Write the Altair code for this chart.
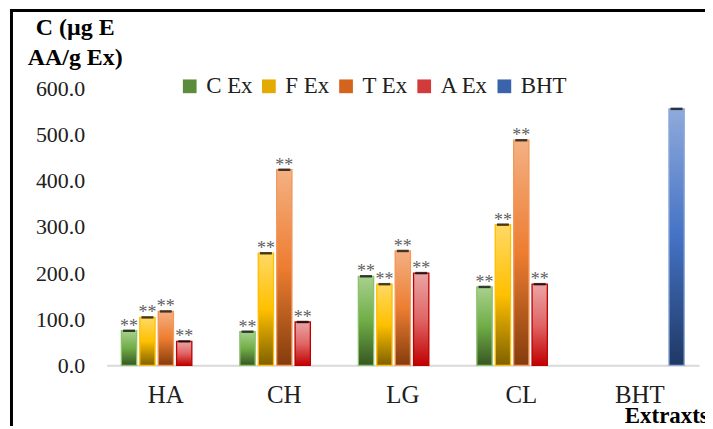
import altair as alt
import pandas as pd

categories = ["HA", "CH", "LG", "CL", "BHT"]
series = ["C Ex", "F Ex", "T Ex", "A Ex", "BHT"]
c_ex = [75, 73, 193, 170]
f_ex = [104, 243, 176, 305]
t_ex = [117, 424, 248, 488]
a_ex = [52, 94, 200, 176]
bht = [556]
sig_label = "**"

rows = []
for i, cat in enumerate(categories[:4]):
    for s, vals in zip(series[:4], [c_ex, f_ex, t_ex, a_ex]):
        rows.append({"cat": cat, "series": s, "value": vals[i], "sig": sig_label})
rows.append({"cat": "BHT", "series": "BHT", "value": bht[0], "sig": ""})
df = pd.DataFrame(rows)

FONT = "Liberation Serif"

grad_stops = {
    "C Ex": ["#a9d18e", "#70ad47", "#375623"],
    "F Ex": ["#ffd966", "#ffc000", "#7f6000"],
    "T Ex": ["#f4b183", "#ed7d31", "#843c0c"],
    "A Ex": ["#eaa5a5", "#e06666", "#c00000"],
    "BHT": ["#8faadc", "#4472c4", "#1f3864"],
}
strokes = {
    "C Ex": "#8cc16b",
    "F Ex": "#ffc000",
    "T Ex": "#f29a5e",
    "A Ex": "#c00000",
    "BHT": "#8faadc",
}
legend_colors = ["#5b8c3c", "#e3aa00", "#d4631b", "#d23b3b", "#3b63aa"]

x_enc = alt.X(
    "cat:N",
    sort=categories,
    scale=alt.Scale(domain=categories, paddingInner=0.25, paddingOuter=0.125),
    axis=alt.Axis(
        labelAngle=0, ticks=False, grid=False, domain=True,
        domainColor="#d9d9d9", domainWidth=2,
        labelFont=FONT, labelFontSize=25, labelColor="#202020", labelPadding=17,
        title="Extraxts", titleFont=FONT, titleFontSize=23, titleFontWeight="bold",
        titleColor="#000000", titleX=520, titleY=57, titleAlign="left",
        titleAnchor="start", titleBaseline="alphabetic",
    ),
)
xo_enc = alt.XOffset(
    "series:N",
    sort=series,
    scale=alt.Scale(domain=series, paddingInner=0.17, paddingOuter=0),
)
y_enc = alt.Y(
    "value:Q",
    scale=alt.Scale(domain=[0, 600], nice=False),
    axis=alt.Axis(
        values=[0, 100, 200, 300, 400, 500, 600], format=".1f",
        grid=False, domain=False, ticks=False,
        labelFont=FONT, labelFontSize=22, labelColor="#202020", labelPadding=22,
        title=["C (µg E", "AA/g Ex)"], titleAngle=0, titleX=-32, titleY=-54.5,
        titleAlign="center", titleBaseline="alphabetic", titleFont=FONT,
        titleFontSize=24, titleFontWeight="bold", titleLineHeight=30,
        titleColor="#000000",
    ),
)

base = alt.Chart(df)

legend_layer = base.mark_bar(strokeWidth=0).encode(
    x=x_enc, xOffset=xo_enc, y=y_enc,
    color=alt.Color(
        "series:N",
        sort=series,
        scale=alt.Scale(domain=series, range=legend_colors),
        legend=alt.Legend(
            orient="none", legendX=72, legendY=-14, direction="horizontal",
            title=None, symbolType="square", symbolSize=190, padding=0,
            labelFont=FONT, labelFontSize=23, labelColor="#202020",
            labelOffset=5, columnPadding=4.5,
            labelExpr="datum.label == 'C Ex' ? ' C Ex' : datum.label",
        ),
    ),
)

layers = [legend_layer]
for s in series:
    st = grad_stops[s]
    g = alt.Gradient(
        gradient="linear", x1=0, y1=0, x2=0, y2=1,
        stops=[
            alt.GradientStop(offset=0, color=st[0]),
            alt.GradientStop(offset=0.5, color=st[1]),
            alt.GradientStop(offset=1, color=st[2]),
        ],
    )
    layers.append(
        base.transform_filter(alt.datum.series == s)
        .mark_bar(fill=g, stroke=strokes[s], strokeWidth=1.3)
        .encode(x=x_enc, xOffset=xo_enc, y=y_enc)
    )

caps = base.mark_tick(color="#000000", thickness=2.5, size=12, orient="horizontal").encode(
    x=x_enc, xOffset=xo_enc, y=y_enc
)
stars = base.mark_text(
    baseline="alphabetic", dy=1, font=FONT, fontSize=18, color="#5f5f5f"
).encode(x=x_enc, xOffset=xo_enc, y=y_enc, text="sig:N")
layers += [caps, stars]

frame_data = alt.Data(values=[{"k": 0}])
left_line = alt.Chart(frame_data).mark_rule(color="#000000", strokeWidth=3).encode(
    x=alt.value(-95.5), y=alt.value(-80), y2=alt.value(345)
)
top_line = alt.Chart(frame_data).mark_rule(color="#000000", strokeWidth=3).encode(
    x=alt.value(-97), x2=alt.value(610), y=alt.value(-78.5)
)
layers += [left_line, top_line]

chart = (
    alt.layer(*layers)
    .properties(
        width=595, height=278,
        background="#ffffff",
        autosize=alt.AutoSizeParams(type="none"),
        padding={"left": 99, "top": 80, "right": 6, "bottom": 60},
    )
    .configure_view(strokeWidth=0)
    .configure_axis(grid=False)
)

chart.save("out.html", embed_options={"renderer": "svg", "actions": False})
